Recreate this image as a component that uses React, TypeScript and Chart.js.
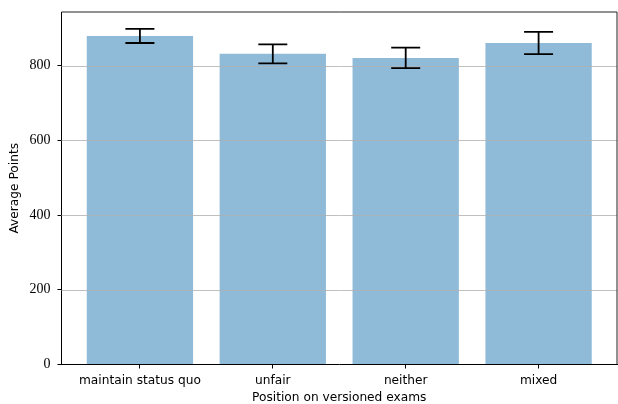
import React, { useEffect, useRef } from "react";
import { Chart, registerables } from "chart.js";

Chart.register(...registerables);

const categories = ["maintain status quo", "unfair", "neither", "mixed"];
const meanPoints = [880, 832, 821, 861];
const errorPoints = [19, 25.5, 27.5, 30];
const yTicks = [0, 200, 400, 600, 800];
const yMax = 944;

const gridOverBarsPlugin = {
  id: "gridOverBars",
  afterDatasetsDraw(chart: any) {
    const { ctx, scales, chartArea } = chart;
    const y = scales.y;
    ctx.save();
    ctx.strokeStyle = "#b0b0b0";
    ctx.lineWidth = 0.8;
    yTicks.forEach((t) => {
      if (t === 0) return;
      const py = Math.round(y.getPixelForValue(t)) + 0.5;
      ctx.beginPath();
      ctx.moveTo(chartArea.left, py);
      ctx.lineTo(chartArea.right, py);
      ctx.stroke();
    });
    ctx.restore();
  },
};

const errorBarPlugin = {
  id: "errorBars",
  afterDatasetsDraw(chart: any) {
    const { ctx, scales } = chart;
    const x = scales.x;
    const y = scales.y;
    ctx.save();
    ctx.strokeStyle = "#000";
    ctx.lineWidth = 1.8;
    meanPoints.forEach((m, i) => {
      const px = x.getPixelForValue(i);
      const top = y.getPixelForValue(m + errorPoints[i]);
      const bot = y.getPixelForValue(m - errorPoints[i]);
      const cap = 14.5;
      ctx.beginPath();
      ctx.moveTo(px, top);
      ctx.lineTo(px, bot);
      ctx.moveTo(px - cap, top);
      ctx.lineTo(px + cap, top);
      ctx.moveTo(px - cap, bot);
      ctx.lineTo(px + cap, bot);
      ctx.stroke();
    });
    ctx.restore();
  },
};

const framePlugin = {
  id: "frame",
  afterDraw(chart: any) {
    const { ctx, chartArea } = chart;
    ctx.save();
    ctx.strokeStyle = "#222";
    ctx.lineWidth = 1;
    ctx.beginPath();
    ctx.moveTo(chartArea.left, chartArea.top);
    ctx.lineTo(chartArea.right, chartArea.top);
    ctx.lineTo(chartArea.right, chartArea.bottom);
    ctx.stroke();
    ctx.restore();
  },
};

const zeroPad = (s: any) => {
  s.paddingTop = 0;
  s.paddingBottom = 0;
  s.paddingLeft = 0;
  s.paddingRight = 0;
};

export default function App() {
  const ref = useRef<HTMLCanvasElement>(null);
  useEffect(() => {
    if (!ref.current) return;
    const chart = new Chart(ref.current, {
      type: "bar",
      data: {
        datasets: [
          {
            data: meanPoints.map((v, i) => ({ x: i, y: v })),
            backgroundColor: "rgba(31,119,180,0.5)",
            borderWidth: 0,
            barPercentage: 0.8,
            categoryPercentage: 1,
          },
        ],
      },
      options: {
        animation: false,
        responsive: false,
        maintainAspectRatio: false,
        layout: { padding: { top: 12, right: 1, left: 0, bottom: 0 } },
        plugins: { legend: { display: false }, tooltip: { enabled: false } },
        scales: {
          x: {
            type: "linear",
            offset: false,
            min: -0.59,
            max: 3.59,
            afterBuildTicks: (s: any) => {
              s.ticks = categories.map((_, i) => ({ value: i }));
            },
            afterFit: (s: any) => {
              s.height = 39.5;
              zeroPad(s);
            },
            ticks: {
              callback: (v: any) => categories[v as number] ?? "",
              color: "#000",
              font: { family: "DejaVu Sans", size: 12.2 },
              padding: 5,
              maxRotation: 0,
              autoSkip: false,
            },
            grid: {
              offset: false,
              drawOnChartArea: false,
              tickLength: 4,
              tickColor: "#000",
              tickWidth: 1,
            },
            border: { color: "#000", width: 1 },
            title: {
              display: true,
              text: "Position on versioned exams",
              color: "#000",
              font: { family: "DejaVu Sans", size: 12.2, lineHeight: 1 },
              padding: { top: 0, bottom: 0 },
            },
          },
          y: {
            min: 0,
            max: yMax,
            afterBuildTicks: (s: any) => {
              s.ticks = yTicks.map((v) => ({ value: v }));
            },
            afterFit: (s: any) => {
              s.width = 61.5;
              zeroPad(s);
            },
            ticks: {
              color: "#000",
              font: { family: "Liberation Serif", size: 14 },
              padding: 7,
            },
            grid: {
              drawOnChartArea: false,
              tickLength: 4,
              tickColor: "#000",
              tickWidth: 1,
            },
            border: { color: "#000", width: 1 },
            title: {
              display: true,
              text: "Average Points",
              color: "#000",
              font: { family: "DejaVu Sans", size: 12.2, lineHeight: 1.2 },
              padding: { top: 8, bottom: 0 },
            },
          },
        },
      },
      plugins: [gridOverBarsPlugin, errorBarPlugin, framePlugin],
    } as any);
    return () => chart.destroy();
  }, []);
  return (
    <div style={{ position: "fixed", left: 0, top: 0, width: 618, height: 404, background: "#fff" }}>
      <canvas ref={ref} width={618} height={404} style={{ width: 618, height: 404 }} />
    </div>
  );
}
